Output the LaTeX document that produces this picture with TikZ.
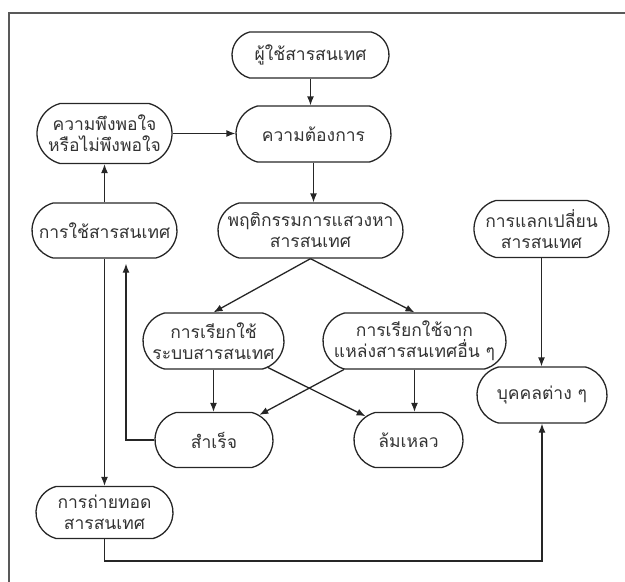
\documentclass[tikz,border=0pt]{standalone}
\usepackage{fontspec}
\newfontfamily\thaifont[Script=Thai]{Loma}
\usetikzlibrary{arrows.meta,shapes.misc}
\tikzset{
  box/.style={draw=black!85, rounded rectangle, rounded rectangle arc length=150,
    line width=1.3pt, align=center,
    inner sep=0pt, font=\thaifont\fontsize{17.5}{21}\selectfont, text=black!80},
  conn/.style={draw=black!85, line width=1.3pt, -{Latex[length=9pt,width=7pt]}},
  frame/.style={draw=black!65, line width=1.8pt}
}
\begin{document}
\begin{tikzpicture}[x=1pt,y=-1pt]
\useasboundingbox (0,0) rectangle (625,582);
\draw[frame] (9,582) -- (9,13) -- (625,13);

\node[box, minimum width=157pt, minimum height=46pt] (user) at (310.5,55) {ผู้ใช้สารสนเทศ};
\node[box, minimum width=155pt, minimum height=56pt] (need) at (313.5,134) {ความต้องการ};
\node[box, minimum width=135pt, minimum height=60pt] (satisf) at (104.5,133.5) {ความพึงพอใจ\\หรือไม่พึงพอใจ};
\node[box, minimum width=145pt, minimum height=55pt] (use) at (104.5,230.5) {การใช้สารสนเทศ};
\node[box, minimum width=185pt, minimum height=55pt] (behav) at (310.5,230.5) {พฤติกรรมการแสวงหา\\สารสนเทศ};
\node[box, minimum width=135pt, minimum height=57pt] (exch) at (541.5,229) {การแลกเปลี่ยน\\สารสนเทศ};
\node[box, minimum width=141pt, minimum height=56pt] (sys) at (213.5,341) {การเรียกใช้\\ระบบสารสนเทศ};
\node[box, minimum width=183pt, minimum height=56pt] (other) at (414.5,341) {การเรียกใช้จาก\\แหล่งสารสนเทศอื่น ๆ};
\node[box, minimum width=118pt, minimum height=55pt] (success) at (214,440) {สำเร็จ};
\node[box, minimum width=109pt, minimum height=55pt] (fail) at (408.5,440) {ล้มเหลว};
\node[box, minimum width=130pt, minimum height=56pt] (people) at (542,395) {บุคคลต่าง ๆ};
\node[box, minimum width=137pt, minimum height=52pt] (transfer) at (104.5,512.5) {การถ่ายทอด\\สารสนเทศ};

\coordinate (upx) at (126,0);
\coordinate (bot) at (0,561);

\draw[conn] (user.south) -- (user.south |- need.north);
\draw[conn] (satisf.east) -- (satisf.east -| need.west);
\draw[conn] (need.south) -- (need.south |- behav.north);
\draw[conn] (use.north) -- (satisf.south);
\draw[conn] (behav.south) -- (sys.north);
\draw[conn] (behav.south) -- (other.north);
\draw[conn] (sys.south) -- (sys.south |- success.north);
\draw[conn] (other.south) -- (other.south |- fail.north);
\draw[conn] (sys.-26) -- (fail.151);
\draw[conn] (other.-158) -- (success.29.6);
\draw[conn, shorten >=5pt] (success.west) -| (upx |- use.south);
\draw[conn] (use.south) -- (use.south |- transfer.north);
\draw[conn] (exch.south) -- (exch.south |- people.north);
\draw[conn] (transfer.south) -- (transfer.south |- bot) -| (people.south);
\end{tikzpicture}
\end{document}
